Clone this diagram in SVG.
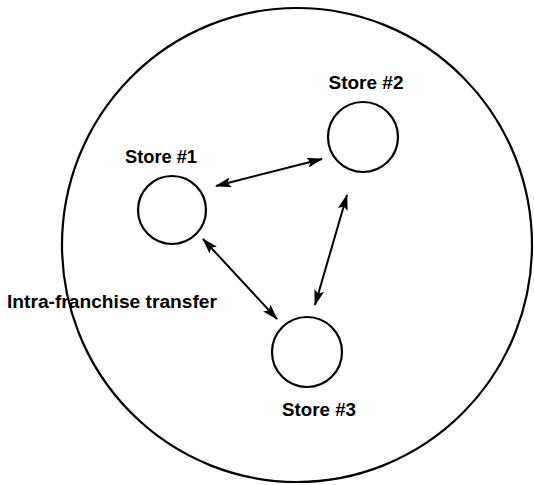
<svg xmlns="http://www.w3.org/2000/svg" width="534" height="485" viewBox="0 0 534 485">
<style>
.c{fill:none;stroke:#000;stroke-width:2.2}
.l{font-family:"Liberation Sans",Arial,sans-serif;font-weight:bold;font-size:18px;fill:#000}
.a{stroke:#000;stroke-width:2;fill:none;marker-start:url(#h);marker-end:url(#h)}
</style>
<defs>
<marker id="h" viewBox="0 0 16 10" refX="15" refY="5" markerWidth="16" markerHeight="10" markerUnits="userSpaceOnUse" orient="auto-start-reverse">
<path d="M0,0 L16,5 L0,10 L3,5 Z" fill="#000"/>
</marker>
</defs>
<rect width="534" height="485" fill="#fff"/>
<g id="franchise">
<ellipse class="c" cx="297" cy="245" rx="235" ry="237"/>
<text class="l" x="7" y="308" textLength="210" lengthAdjust="spacingAndGlyphs">Intra-franchise transfer</text>
</g>
<g id="store1">
<circle class="c" cx="172" cy="210" r="34"/>
<text class="l" x="161" y="163" text-anchor="middle" textLength="72" lengthAdjust="spacingAndGlyphs">Store #1</text>
</g>
<g id="store2">
<circle class="c" cx="363" cy="137" r="35"/>
<text class="l" x="366" y="89" text-anchor="middle" textLength="75" lengthAdjust="spacingAndGlyphs">Store #2</text>
</g>
<g id="store3">
<circle class="c" cx="307" cy="352" r="35"/>
<text class="l" x="319" y="416" text-anchor="middle" textLength="74" lengthAdjust="spacingAndGlyphs">Store #3</text>
</g>
<g id="connectors">
<line class="a" x1="216" y1="186" x2="322" y2="159"/>
<line class="a" x1="347" y1="195" x2="315" y2="305"/>
<line class="a" x1="203" y1="239" x2="277" y2="319"/>
</g>
</svg>
